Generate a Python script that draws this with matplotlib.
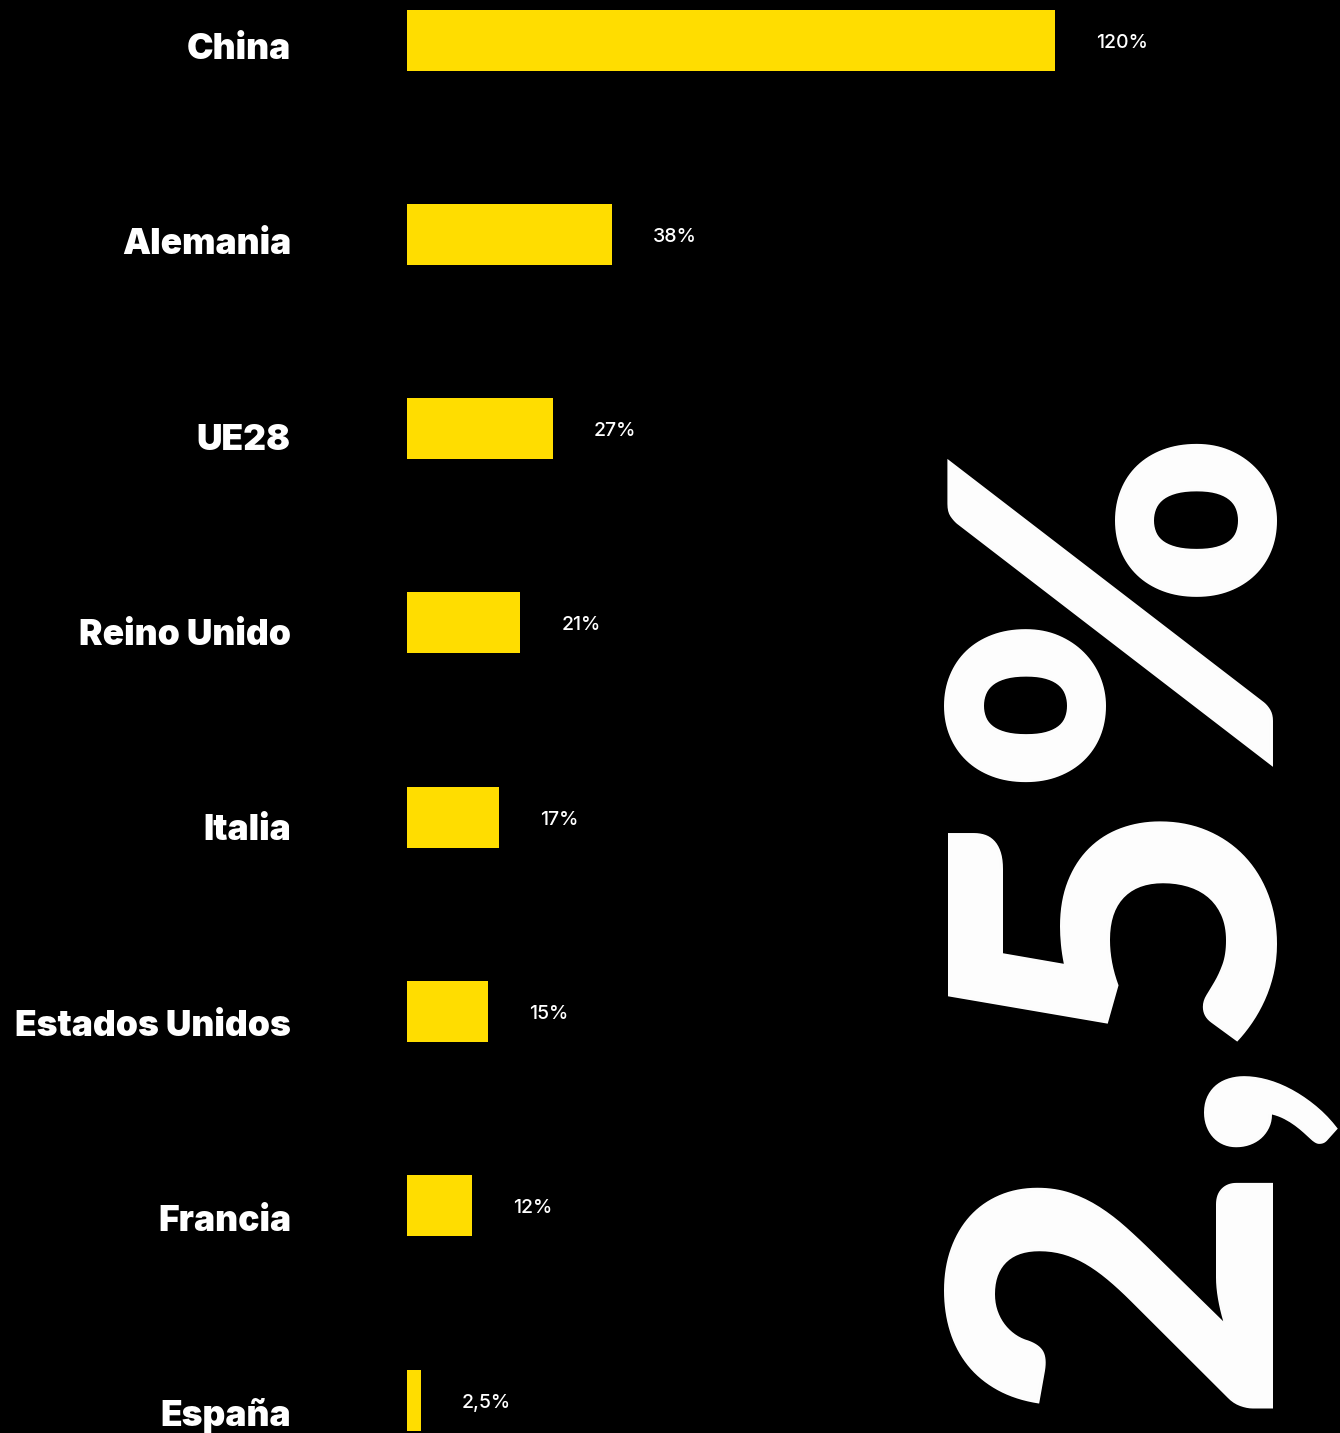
import matplotlib.pyplot as plt

# datos: variación porcentual por país
paises = ['China', 'Alemania', 'UE28', 'Reino Unido', 'Italia',
          'Estados Unidos', 'Francia', 'España']
valores = [120, 38, 27, 21, 17, 15, 12, 2.5]
etiquetas = ['120%', '38%', '27%', '21%', '17%', '15%', '12%', '2,5%']
destacado = '2,5%'

AMARILLO = '#FFDD00'
FUENTE = ['Inter', 'DejaVu Sans']
FUENTE_CIFRA = ['Lato', 'DejaVu Sans']

W, H = 1340, 1433
fig = plt.figure(figsize=(W / 100, H / 100), dpi=100, facecolor='black')

# eje de barras: x=0 en 407 px, 5.4 px por punto porcentual
x0 = 407
paso = 194.3
ax = fig.add_axes([x0 / W, 0, (W - x0) / W, 1])
ax.set_facecolor('black')
ax.set_xlim(0, (W - x0) / 5.4)
ax.set_ylim((H - 40) / paso, -40 / paso)
ax.axis('off')

pos = list(range(len(paises)))
ax.barh(pos, valores, height=61 / paso, color=AMARILLO, align='center')

for i, (p, v, t) in enumerate(zip(paises, valores, etiquetas)):
    # valor a la derecha de la barra
    ax.annotate(t, (v, i), xytext=(41, -7.5), textcoords='offset pixels',
                ha='left', va='baseline', color='white', fontsize=14,
                family=FUENTE, fontweight='medium')
    # nombre del país, alineado a la derecha
    ax.annotate(p, (0, i), xytext=(291 - x0, -(19 + i)),
                textcoords='offset pixels', ha='right', va='baseline',
                color='white', fontsize=25.5, family=FUENTE,
                fontweight='black', annotation_clip=False)

# cifra destacada en vertical
fig.text(1258 / W, 1 - 411 / H, destacado, rotation=90, rotation_mode='anchor',
         ha='right', va='baseline', color='white', fontsize=323,
         family=FUENTE_CIFRA, fontweight='black')

fig.savefig('out.png', dpi=100, facecolor='black')
